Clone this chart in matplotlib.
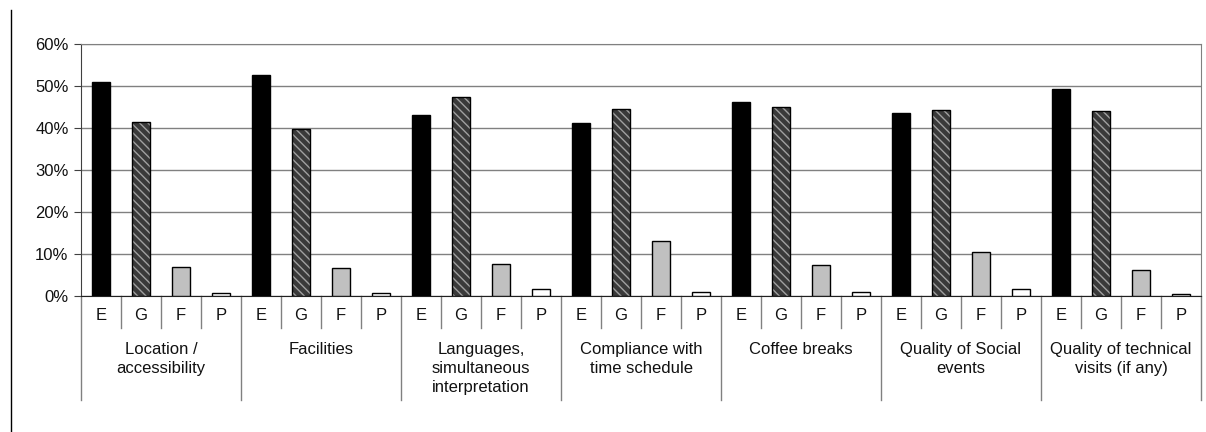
import numpy as np
import matplotlib
matplotlib.use("Agg")
import matplotlib.pyplot as plt
from matplotlib.lines import Line2D

plt.rcParams.update({
    "font.family": ["Liberation Sans", "DejaVu Sans"],
    "font.size": 12,
})

# Satisfaction ratings per aspect (share of answers)
groups = [
    "Location /\naccessibility",
    "Facilities",
    "Languages,\nsimultaneous\ninterpretation",
    "Compliance with\ntime schedule",
    "Coffee breaks",
    "Quality of Social\nevents",
    "Quality of technical\nvisits (if any)",
]
ratings = ["E", "G", "F", "P"]
excellent = [51.0, 52.6, 43.1, 41.2, 46.2, 43.6, 49.3]
good = [41.4, 39.8, 47.4, 44.5, 45.0, 44.3, 44.0]
fair = [6.9, 6.7, 7.6, 13.1, 7.4, 10.5, 6.2]
poor = [0.7, 0.7, 1.7, 1.0, 1.0, 1.7, 0.5]

series = [excellent, good, fair, poor]
n_g = len(groups)
n_r = len(ratings)

fig = plt.figure(figsize=(12.06, 4.32), dpi=100)
ax = fig.add_axes([81 / 1206, 1 - 296 / 432, 1120 / 1206, 252 / 432])

# page border line on the left
fig.add_artist(Line2D([11 / 1206, 11 / 1206], [0, 1 - 10 / 432], color="black", lw=1))

w = 0.43
for r, vals in enumerate(series):
    x = np.arange(n_g) * n_r + r
    v = np.array(vals) / 100
    if r == 0:
        ax.bar(x, v, w, color="black", edgecolor="black", lw=1, zorder=3)
    elif r == 1:
        ax.bar(x, v, w, color="#3a3a3a", edgecolor="#a0a0a0", hatch="\\\\\\\\", lw=0, zorder=3)
        ax.bar(x, v, w, fill=False, edgecolor="black", lw=1, zorder=4)
    elif r == 2:
        ax.bar(x, v, w, color="#c0c0c0", edgecolor="black", lw=1, zorder=3)
    else:
        ax.bar(x, v, w, color="white", edgecolor="black", lw=1, zorder=3)

ax.set_xlim(-0.5, n_g * n_r - 0.5)
ax.set_ylim(0, 0.6)
ax.set_yticks(np.arange(0, 0.61, 0.1))
ax.set_yticklabels([f"{int(round(t * 100))}%" for t in np.arange(0, 0.61, 0.1)])
ax.yaxis.grid(True, color="#808080", lw=1)
ax.set_axisbelow(True)
ax.tick_params(axis="y", length=5, color="#404040", pad=4, labelcolor="#111111")
ax.set_xticks([])

for s in ["top", "right"]:
    ax.spines[s].set_color("#808080")
ax.spines["left"].set_color("#404040")
ax.spines["bottom"].set_color("#202020")

trans = ax.get_xaxis_transform()
for k in range(n_g * n_r + 1):
    xb = k - 0.5
    if k % n_r == 0:
        y_end = -104 / 252
    else:
        y_end = -32 / 252
    ax.plot([xb, xb], [0, y_end], color="#808080", lw=1, transform=trans, clip_on=False)

for g in range(n_g):
    for r in range(n_r):
        ax.text(g * n_r + r, -20 / 252, ratings[r], ha="center", va="center",
                transform=trans, color="#111111")
    ax.text(g * n_r + 1.5, -46 / 252, groups[g], ha="center", va="top",
            transform=trans, linespacing=1.35, color="#111111")

fig.savefig("out.png", dpi=100)
